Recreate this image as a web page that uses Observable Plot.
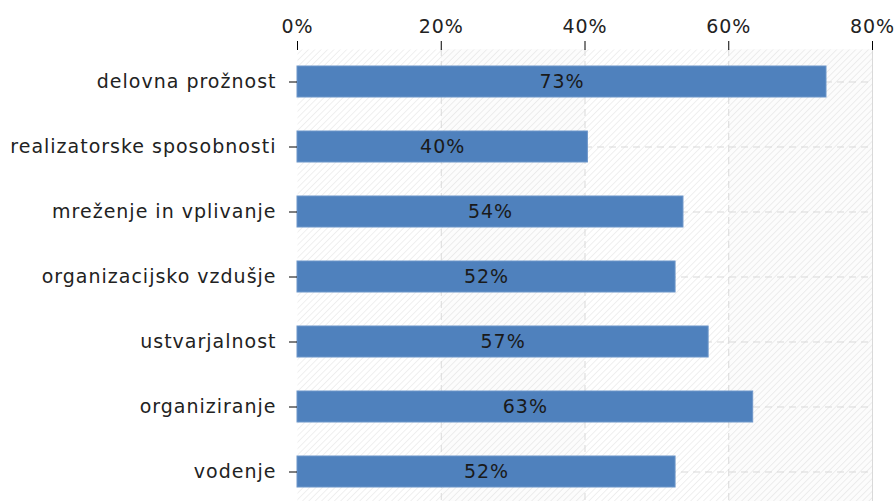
<!DOCTYPE html>
<html><head><meta charset="utf-8">
<script src="https://cdn.jsdelivr.net/npm/d3@7"></script>
<script src="https://cdn.jsdelivr.net/npm/@observablehq/plot@0.6"></script>
<style>body{margin:0;background:#fff} svg{display:block}</style>
</head><body><div id="chart"></div>
<script>
const categories = ["delovna prožnost","realizatorske sposobnosti","mreženje in vplivanje","organizacijsko vzdušje","ustvarjalnost","organiziranje","vodenje"];
const values = [73.6, 40.4, 53.7, 52.6, 57.2, 63.4, 52.6];
const valueLabels = ["73%","40%","54%","52%","57%","63%","52%"];
const xTicks = [0, 20, 40, 60, 80];
const gridTicks = [20, 40, 60];
const shadedBands = [[20, 40], [60, 80]];

const data = categories.map((c, i) => ({category: c, value: values[i], label: valueLabels[i]}));

const chart = Plot.plot({
  width: 895, height: 501,
  marginLeft: 297, marginRight: 23, marginTop: 49, marginBottom: 0,
  style: {fontFamily: "DejaVu Sans", fontSize: "19px", color: "#222", background: "#fff", letterSpacing: "1px"},
  x: {domain: [0, 80]},
  y: {domain: categories, range: [49, 505], paddingInner: 0.52, paddingOuter: 0.26},
  marks: [
    Plot.frame({fill: "url(#hatch)", stroke: null}),
    Plot.rectX(shadedBands, {x1: d => d[0], x2: d => d[1], fill: "#000", fillOpacity: 0.012}),
    Plot.gridX(gridTicks, {stroke: "#d9d9d9", strokeOpacity: 1, strokeDasharray: "7,5"}),
    Plot.ruleX([80], {stroke: "#d9d9d9"}),
    Plot.gridY(categories, {stroke: "#d9d9d9", strokeOpacity: 1, strokeDasharray: "7,5"}),
    Plot.barX(data, {x: "value", y: "category", fill: "#4f81bd", stroke: "#6d96c9", strokeWidth: 1}),
    Plot.text(data, {x: d => d.value / 2, y: "category", text: "label", fill: "#1a1a1a", fontSize: 19}),
    Plot.axisX({anchor: "top", ticks: xTicks, tickFormat: d => d + "%", tickSize: 9, tickPadding: 8, stroke: "#000", strokeOpacity: 1, line: true, fontSize: 19, label: null}),
    Plot.axisY({anchor: "left", tickSize: 8, tickPadding: 13, stroke: "#000", strokeOpacity: 1, line: true, fontSize: 19, label: null})
  ]
});

const defs = d3.select(chart).insert("defs", ":first-child");
const pat = defs.append("pattern").attr("id", "hatch").attr("patternUnits", "userSpaceOnUse")
  .attr("width", 4.5).attr("height", 4.5).attr("patternTransform", "rotate(45)");
pat.append("rect").attr("width", 4.5).attr("height", 4.5).attr("fill", "#fff");
pat.append("line").attr("x1", 0).attr("y1", 0).attr("x2", 0).attr("y2", 4.5).attr("stroke", "#e6e6e6").attr("stroke-width", 1.2);

document.getElementById("chart").appendChild(chart);
</script>
</body></html>
